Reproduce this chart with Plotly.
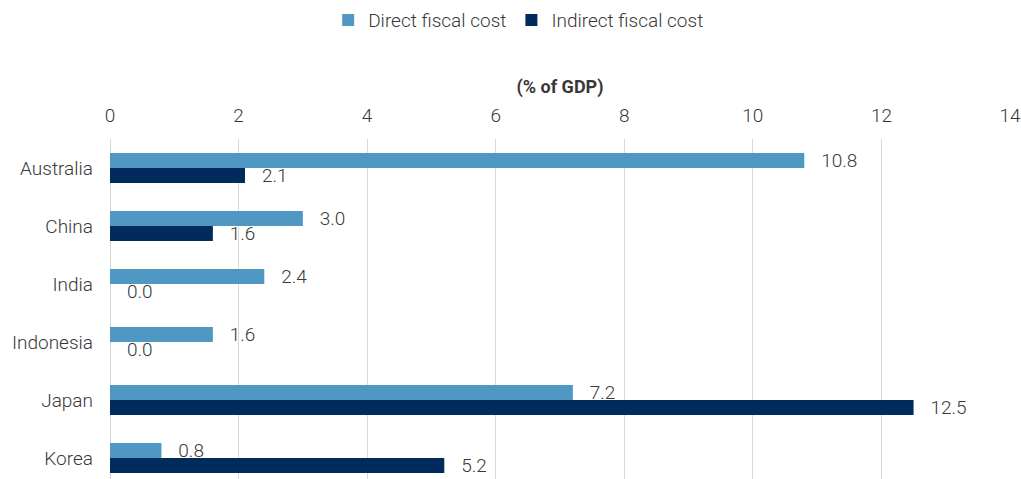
import plotly.graph_objects as go

countries = ["Australia", "China", "India", "Indonesia", "Japan", "Korea"]
direct = [10.8, 3.0, 2.4, 1.6, 7.2, 0.8]
indirect = [2.1, 1.6, 0.0, 0.0, 12.5, 5.2]
x_ticks = [0, 2, 4, 6, 8, 10, 12, 14]

FONT = "Roboto"
TXT = "#383838"
FS = 19
W = 300

fig = go.Figure()
fig.add_trace(go.Bar(
    y=countries, x=direct, name="Direct fiscal cost", orientation="h",
    marker=dict(color="#4f98c3", line=dict(width=0)),
    texttemplate="\u00a0\u00a0\u00a0%{x:.1f}", textposition="outside",
    constraintext="none",
    textfont=dict(family=FONT, size=FS, color=TXT, weight=W), cliponaxis=False,
))
fig.add_trace(go.Bar(
    y=countries, x=indirect, name="Indirect fiscal cost", orientation="h",
    marker=dict(color="#002b5c", line=dict(width=0)),
    texttemplate="\u00a0\u00a0\u00a0%{x:.1f}", textposition="outside",
    constraintext="none",
    textfont=dict(family=FONT, size=FS, color=TXT, weight=W), cliponaxis=False,
))

fig.update_layout(
    width=1021, height=479,
    margin=dict(l=110, r=11, t=139, b=0),
    barmode="group", bargap=0.483, bargroupgap=0,
    plot_bgcolor="white", paper_bgcolor="white",
    font=dict(family=FONT, size=FS, color=TXT, weight=W),
    legend=dict(orientation="h", xref="container", yref="container",
                x=0.508, xanchor="center", y=0.958, yanchor="middle",
                font=dict(size=FS, color=TXT, weight=W), traceorder="normal",
                itemwidth=30),
    xaxis=dict(side="top", range=[0, 14], tickvals=x_ticks,
               showgrid=True, gridcolor="#d9d9d9", gridwidth=1,
               zeroline=True, zerolinecolor="#d9d9d9", zerolinewidth=1,
               showline=False, ticks="", ticklabelstandoff=12,
               tickfont=dict(size=FS, color=TXT, weight=W),
               title=dict(text="(% of GDP)", standoff=5,
                          font=dict(size=18, color=TXT, weight=700))),
    yaxis=dict(range=[5.362, -0.5], showgrid=False, ticks="",
               ticklabelstandoff=16, tickfont=dict(size=FS, color=TXT, weight=W)),
)
fig.write_html("out.html")
